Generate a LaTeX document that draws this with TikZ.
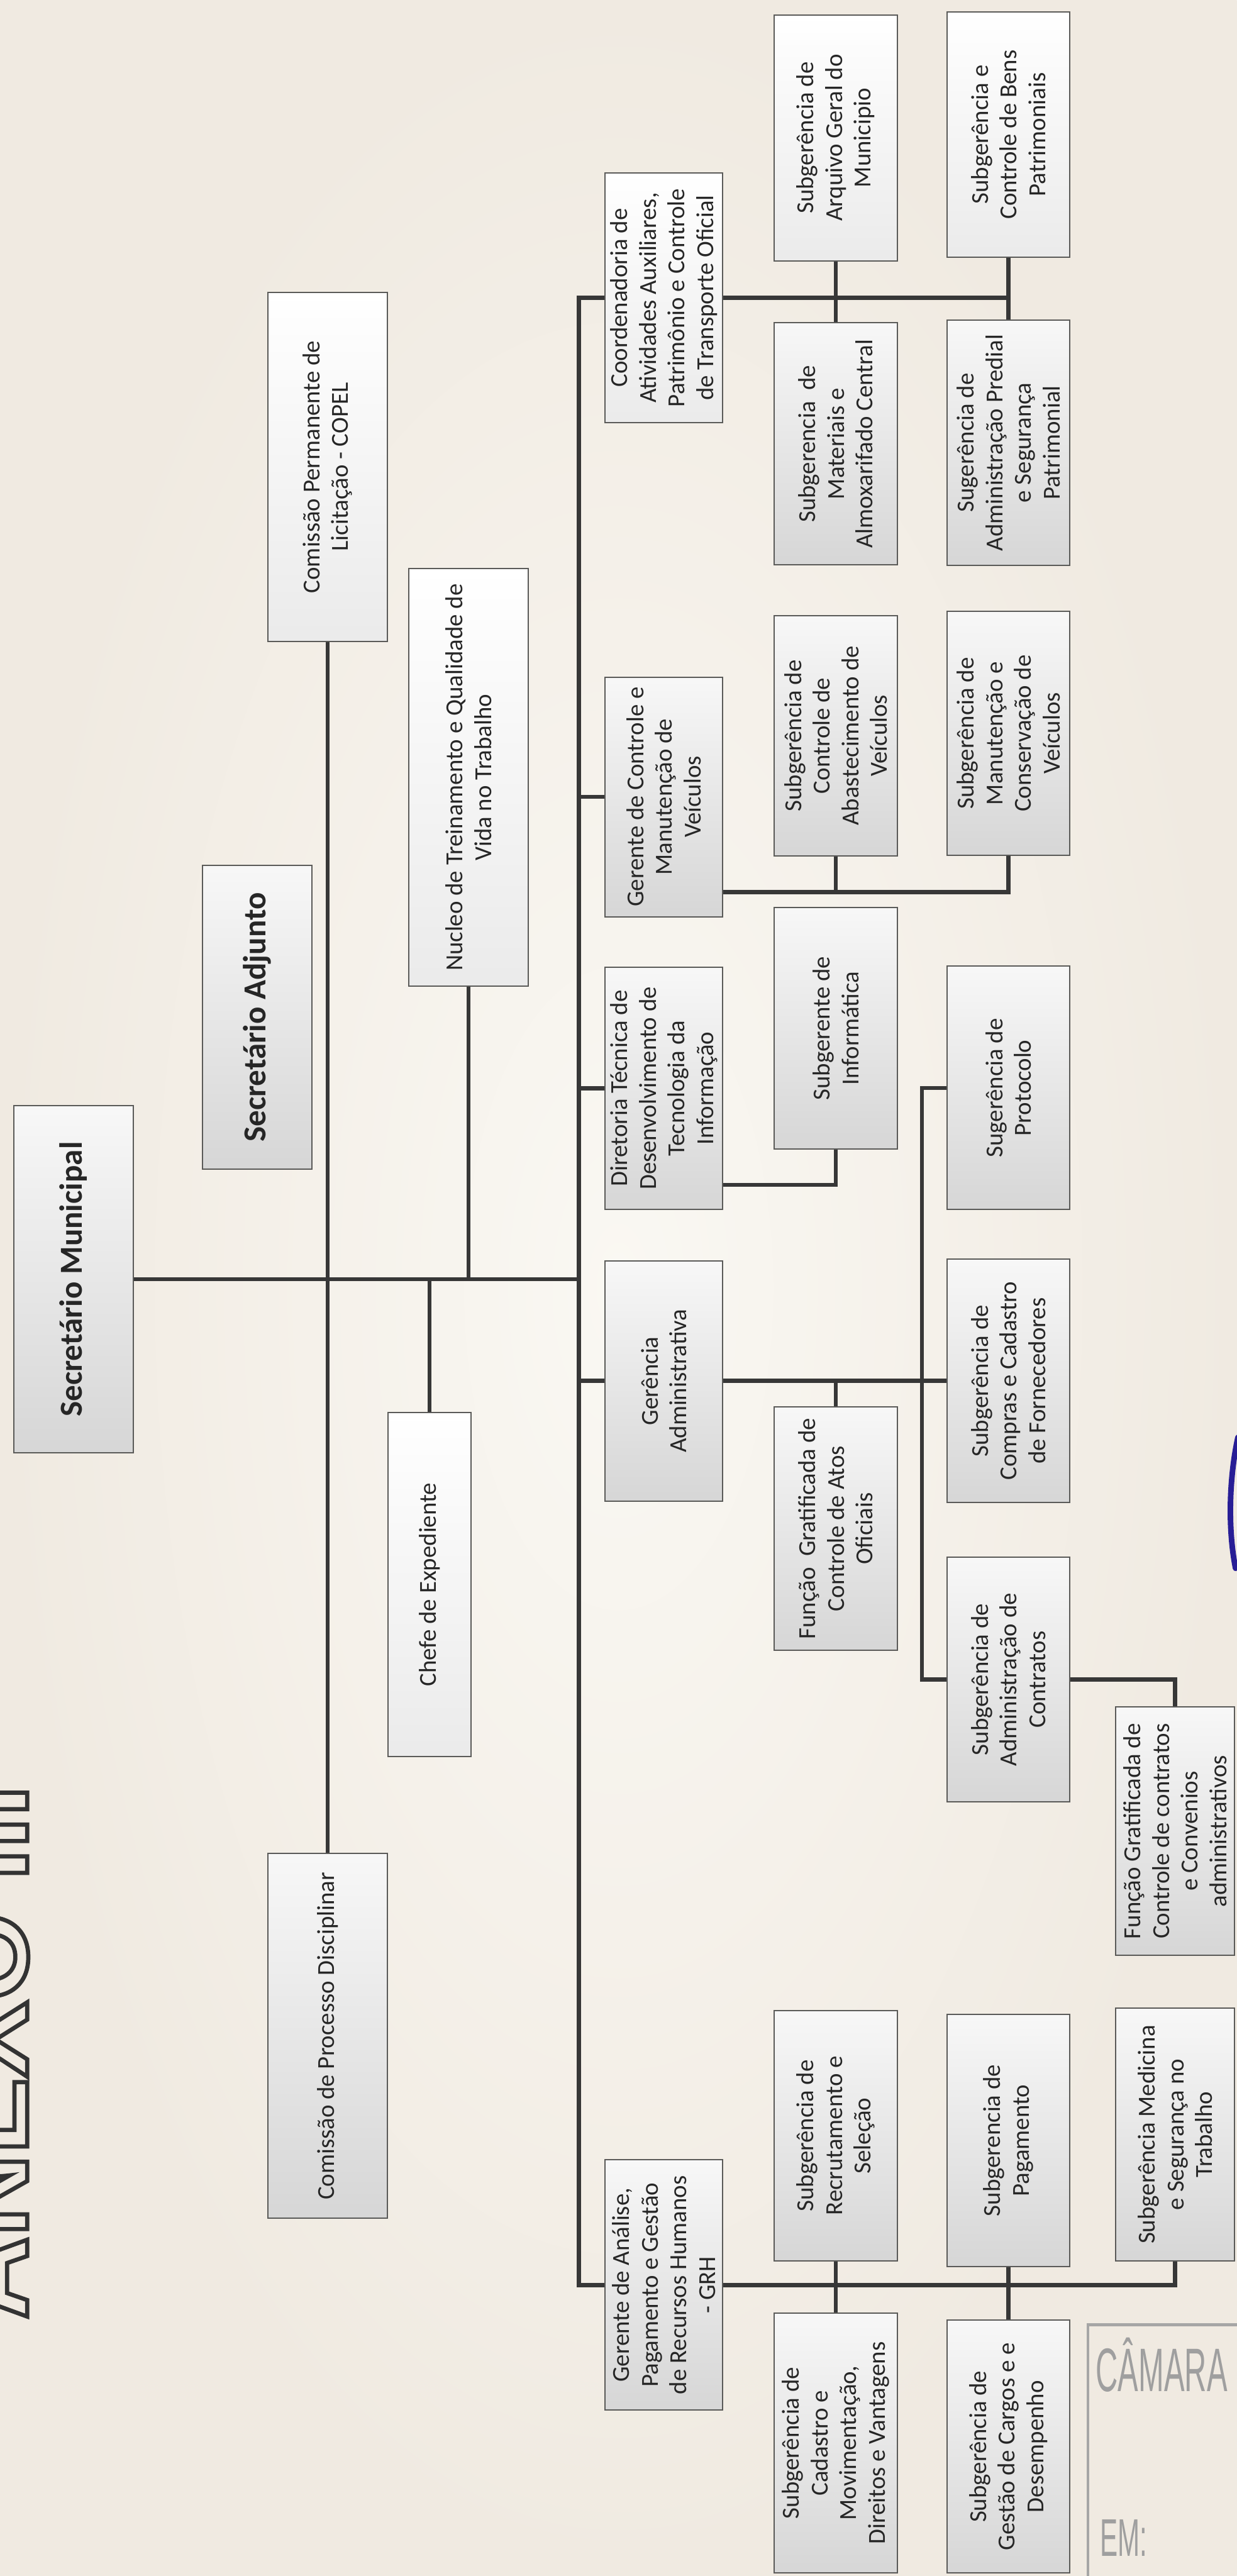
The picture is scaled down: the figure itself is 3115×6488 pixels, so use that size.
\documentclass[tikz,border=0pt]{standalone}
\usepackage{fontspec}
\setmainfont{Carlito}
\newfontfamily\titlefont{Liberation Sans}
\usetikzlibrary{shadings}
\definecolor{paper}{RGB}{240,234,225}
\definecolor{paperlight}{RGB}{250,248,243}
\definecolor{boxline}{RGB}{90,90,88}
\definecolor{linkcol}{RGB}{55,55,55}
\definecolor{pen}{RGB}{40,30,150}
% hollow letters for the annex title
\newcommand\hollow[1]{\special{pdf:literal direct 1 Tr 3 w}#1\special{pdf:literal direct 0 Tr 1 w}}

\begin{document}
\begin{tikzpicture}[x=0.01cm, y=-0.01cm,
        box/.style = {rectangle, draw=boxline, line width=0.9pt, rotate=90,
                      top color=gray!6, bottom color=gray!32, text=black!85,
                      minimum height=3.05cm, inner sep=2pt, align=center,
                      font=\fontsize{17.5}{20.5}\selectfont},
       lbox/.style = {box, top color=white, bottom color=gray!16},
       bbox/.style = {box, font=\fontsize{23}{26}\selectfont\bfseries},
       link/.style = {draw=linkcol, line width=3pt},
      anexo/.style = {rotate=90, anchor=south east, inner sep=0pt, text=black!80,
                      font=\titlefont\bfseries\fontsize{82}{82}\selectfont},
     stampt/.style = {anchor=base west, inner sep=0pt, text=gray!75, xscale=0.5}
                        ]
\shade[inner color=paperlight, outer color=paper] (0,0) rectangle (3115,6488);
\useasboundingbox (0,0) rectangle (3115,6488);

% title, cut by the page edge
\node[anexo] (anexo) at (72,4495) {\hollow{ANEXO III}};

% top
\node[bbox, minimum height=3.0cm, minimum width=8.73cm] (secMun) at (185,3222) {Secretário Municipal};
\node[bbox, minimum height=2.75cm, minimum width=7.66cm] (secAdj) at (648,2562) {Secretário Adjunto};
\node[lbox, minimum height=3.0cm, minimum width=8.79cm] (copel) at (825,1176) {Comissão Permanente de\\Licitação - COPEL};
\node[lbox, minimum height=3.0cm, minimum width=10.51cm] (nucleo) at (1180,1958) {Nucleo de Treinamento e Qualidade de\\Vida no Trabalho};
\node[lbox, minimum height=2.1cm, minimum width=8.66cm] (chefe) at (1082,3991) {Chefe de Expediente};
\node[box, minimum height=3.0cm, minimum width=9.18cm] (processo) at (825,5128) {Comissão de Processo Disciplinar};

% second level
\node[lbox, minimum height=2.95cm, minimum width=6.3cm] (coord) at (1672,750) {Coordenadoria de\\Atividades Auxiliares,\\Patrimônio e Controle\\de Transporte Oficial};
\node[box, minimum height=2.95cm, minimum width=6.03cm] (gerCtrl) at (1672,2007) {Gerente de Controle e\\Manutenção de\\Veículos};
\node[box, minimum height=2.95cm, minimum width=6.09cm] (dirTec) at (1672,2741) {Diretoria Técnica de\\Desenvolvimento de\\Tecnologia da\\Informação};
\node[box, minimum height=2.95cm, minimum width=6.04cm] (gerAdm) at (1672,3478) {Gerência\\Administrativa};
\node[box, minimum height=2.95cm, minimum width=6.3cm] (gerRH) at (1672,5755) {Gerente de Análise,\\Pagamento e Gestão\\de Recursos Humanos\\- GRH};

% third level
\node[lbox, minimum height=3.1cm, minimum width=6.19cm] (arquivo) at (2105,347) {Subgerência de\\Arquivo Geral do\\Municipio};
\node[box, minimum height=3.1cm, minimum width=6.1cm] (materiais) at (2105,1118) {Subgerencia\ \ de\\Materiais e\\Almoxarifado Central};
\node[box, minimum height=3.1cm, minimum width=6.05cm] (abastec) at (2105,1853) {Subgerência de\\Controle de\\Abastecimento de\\Veículos};
\node[box, minimum height=3.1cm, minimum width=6.09cm] (informatica) at (2105,2590) {Subgerente de\\Informática};
\node[box, minimum height=3.1cm, minimum width=6.13cm] (funcAtos) at (2105,3850) {Função\ \ Gratificada de\\Controle de Atos\\Oficiais};
\node[box, minimum height=3.1cm, minimum width=6.3cm] (recrut) at (2105,5379) {Subgerência de\\Recrutamento e\\Seleção};
\node[box, minimum height=3.1cm, minimum width=6.54cm] (cadastro) at (2105,6153) {Subgerência de\\Cadastro e\\Movimentação,\\Direitos e Vantagens};

% fourth level
\node[lbox, minimum height=3.1cm, minimum width=6.16cm] (bens) at (2540,339) {Subgerência e\\Controle de Bens\\Patrimoniais};
\node[box, minimum height=3.1cm, minimum width=6.17cm] (predial) at (2540,1115) {Sugerência de\\Administração Predial\\e Segurança\\Patrimonial};
\node[box, minimum height=3.1cm, minimum width=6.13cm] (manut) at (2540,1847) {Subgerência de\\Manutenção e\\Conservação de\\Veículos};
\node[box, minimum height=3.1cm, minimum width=6.13cm] (protocolo) at (2540,2740) {Sugerência de\\Protocolo};
\node[box, minimum height=3.1cm, minimum width=6.13cm] (compras) at (2540,3478) {Subgerência de\\Compras e Cadastro\\de Fornecedores};
\node[box, minimum height=3.1cm, minimum width=6.16cm] (contratos) at (2540,4230) {Subgerência de\\Administração de\\Contratos};
\node[box, minimum height=3.1cm, minimum width=6.34cm] (pagamento) at (2540,5391) {Subgerencia de\\Pagamento};
\node[box, minimum height=3.1cm, minimum width=6.37cm] (cargos) at (2540,6162) {Subgerência de\\Gestão de Cargos e e\\Desempenho};

% fifth level
\node[box, minimum height=3.0cm, minimum width=6.26cm] (funcContr) at (2960,4612) {Função Gratificada de\\Controle de contratos\\e Convenios\\administrativos};
\node[box, minimum height=3.0cm, minimum width=6.37cm] (medicina) at (2960,5376) {Subgerência Medicina\\e Segurança no\\Trabalho};

% connectors
\coordinate (bus) at (1458,0);
\coordinate (ctrlJ) at (0,2247);
\coordinate (tiJ) at (0,2984);
\coordinate (admV) at (2322,0);

\draw[link] (secMun.south) -- (secMun.south -| bus);
\draw[link] (copel.west) -- (processo.east);
\draw[link] (nucleo.west) -- (nucleo.west |- secMun.south);
\draw[link] (chefe.east) -- (chefe.east |- secMun.south);

\draw[link] (coord.north) -| (bus |- gerRH.north) -- (gerRH.north);
\foreach \n in {gerCtrl,dirTec,gerAdm}
  \draw[link] (\n.north) -- (\n.north -| bus);

\draw[link] (coord.south) -- (coord.south -| bens.west);
\draw[link] (arquivo.west) -- (materiais.east);
\draw[link] (bens.west) -- (predial.east);

\draw[link] (gerCtrl.south |- ctrlJ) -| (manut.west);
\draw[link] (abastec.west) -- (abastec.west |- ctrlJ);

\draw[link] (dirTec.south |- tiJ) -| (informatica.west);

\draw[link] (gerAdm.south) -- (compras.north);
\draw[link] (funcAtos.east) -- (funcAtos.east |- gerAdm.south);
\draw[link] (protocolo.north) -| (admV |- contratos.north) -- (contratos.north);
\draw[link] (contratos.south) -| (funcContr.east);

\draw[link] (gerRH.south) -| (medicina.west);
\draw[link] (recrut.west) -- (cadastro.east);
\draw[link] (pagamento.west) -- (cargos.east);

% stamp and pen mark
\draw[gray!70, line width=2pt] (2740,5855) rectangle (3300,6700);
\node[stampt, font=\titlefont\fontsize{44}{44}\selectfont] (camara) at (2760,6023) {CÂMARA M};
\node[stampt, font=\titlefont\fontsize{38}{38}\selectfont] (em) at (2770,6438) {EM:};
\draw[pen, line width=4pt, line cap=round] (3118,3620) .. controls (3096,3720) and (3092,3850) .. (3112,3950);
\end{tikzpicture}
\end{document}
